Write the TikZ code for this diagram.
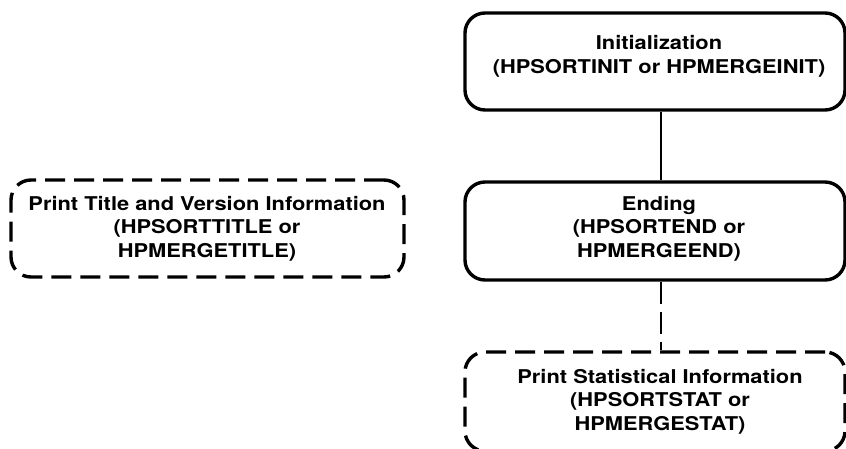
\documentclass[tikz,border=0pt]{standalone}
\usepackage{fontspec}
\setmainfont[FakeStretch=1.15]{TeX Gyre Heros}
\begin{document}
\begin{tikzpicture}[x=1pt,y=-1pt,
  box/.style={draw, line width=3.4pt, rounded corners=20pt, inner sep=0pt},
  dbox/.style={box, dash pattern=on 20pt off 9pt},
  txt/.style={align=center, inner sep=0pt, font=\fontsize{19}{23.5}\selectfont\bfseries},
  link/.style={line width=2pt},
  dlink/.style={link, dash pattern=on 22pt off 8pt}]
\useasboundingbox (0,0) rectangle (846,449);
% boxes
\node[box, minimum width=380pt, minimum height=97pt] (init) at (655,61.5) {};
\node[box, minimum width=380pt, minimum height=98pt] (end) at (655,231) {};
\node[dbox, minimum width=380pt, minimum height=99pt] (stat) at (655,401.5) {};
\node[dbox, minimum width=393pt, minimum height=97pt] (title) at (207.5,228.5) {};
% texts
\node[txt] (initT) at (659,56.5) {Initialization\\(HPSORTINIT or HPMERGEINIT)};
\node[txt] (endT) at (659,228.5) {Ending\\(HPSORTEND or\\HPMERGEEND)};
\node[txt] (statT) at (660,401.5) {Print Statistical Information\\(HPSORTSTAT or\\HPMERGESTAT)};
\node[txt] (titleT) at (207,228.5) {Print Title and Version Information\\(HPSORTTITLE or\\HPMERGETITLE)};
% connectors
\draw[link] (init.south -| 661,0) -- (end.north -| 661,0);
\draw[dlink] (end.south -| 661,0) -- (stat.north -| 661,0);
\end{tikzpicture}
\end{document}
